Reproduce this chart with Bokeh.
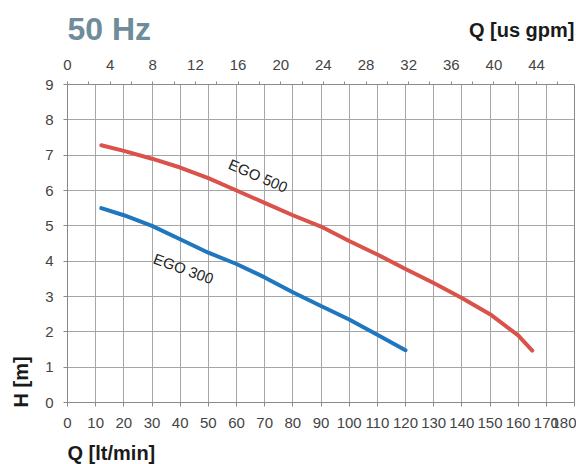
from bokeh.plotting import figure
from bokeh.models import Range1d, LinearAxis, FixedTicker, Label, Title
from bokeh.layouts import column
from bokeh.embed import file_html
from bokeh.resources import INLINE

# ---- data ----
q_ego500 = [12, 20, 30, 40, 50, 60, 70, 80, 90, 100, 110, 120, 130, 140, 150, 160, 165]
h_ego500 = [7.28, 7.12, 6.9, 6.65, 6.35, 6.0, 5.65, 5.3, 4.98, 4.57, 4.19, 3.78, 3.38, 2.96, 2.5, 1.9, 1.47]
q_ego300 = [12, 20, 30, 40, 50, 60, 70, 80, 90, 100, 110, 120]
h_ego300 = [5.5, 5.3, 5.0, 4.62, 4.24, 3.92, 3.54, 3.12, 2.73, 2.35, 1.92, 1.48]

lpm_ticks = list(range(0, 181, 10))
h_ticks = list(range(0, 10))
gpm_ticks = list(range(0, 45, 4))
gpm_minor = list(range(2, 47, 4))
LPM_PER_GPM = 3.785
Q_MAX = 180

FONT = "Liberation Sans"
TICK_COLOR = "#444444"
GRID = "#a6a6a6"
LABEL_COLOR = "#1a1a1a"

W, H = 576, 464
HEAD = 52
FOOT = 28


def strip(height):
    f = figure(width=W, height=height, x_range=Range1d(0, Q_MAX), y_range=Range1d(height, 0),
               output_backend="svg", toolbar_location=None,
               x_axis_type=None, y_axis_type=None,
               min_border_left=0, min_border_right=0, min_border_top=0, min_border_bottom=0)
    f.title_location = None
    f.outline_line_color = None
    f.background_fill_color = "white"
    f.border_fill_color = "white"
    return f


# ---- header strip (titles above the chart) ----
head = strip(HEAD)
head.add_layout(Label(x=0, y=28.5, text="50 Hz", text_align="left", text_baseline="middle",
                      text_font=FONT, text_font_size="32px", text_font_style="bold",
                      text_color="#6e8c9a"))
head.add_layout(Label(x=Q_MAX, y=29.7, text="Q [us gpm]", text_align="right", text_baseline="middle",
                      text_font=FONT, text_font_size="20px", text_font_style="bold",
                      text_color=LABEL_COLOR))

# ---- footer strip ----
foot = strip(FOOT)
foot.add_layout(Label(x=0, y=16.5, text="Q [lt/min]", text_align="left", text_baseline="middle",
                      text_font=FONT, text_font_size="20px", text_font_style="bold",
                      text_color=LABEL_COLOR))

# ---- main chart ----
p = figure(width=W, height=H - HEAD - FOOT,
           x_range=Range1d(0, Q_MAX), y_range=Range1d(0, 9),
           output_backend="svg", toolbar_location=None,
           min_border_left=65, min_border_right=2,
           min_border_top=84 - HEAD, min_border_bottom=(H - FOOT) - 402)
p.title_location = None
p.background_fill_color = "white"
p.border_fill_color = "white"
p.outline_line_color = "#8a8a8a"
p.outline_line_width = 1

p.extra_x_ranges = {"gpm": Range1d(0, Q_MAX / LPM_PER_GPM)}
top = LinearAxis(x_range_name="gpm",
                 ticker=FixedTicker(ticks=gpm_ticks, minor_ticks=gpm_minor))
p.add_layout(top, "above")

bottom = p.below[0]
left = p.left[0]
bottom.ticker = FixedTicker(ticks=lpm_ticks, minor_ticks=[])
left.ticker = FixedTicker(ticks=h_ticks, minor_ticks=[])

for ax in (bottom, left, top):
    ax.axis_line_color = "#8a8a8a"
    ax.major_tick_line_color = "#8a8a8a"
    ax.minor_tick_line_color = "#8a8a8a"
    ax.major_tick_in = 0
    ax.minor_tick_in = 0
    ax.major_label_text_font = FONT
    ax.major_label_text_font_size = "15px"
    ax.major_label_text_color = TICK_COLOR
bottom.major_tick_out = 4
bottom.major_label_standoff = 11
left.major_tick_out = 4
left.major_label_standoff = 10
top.major_tick_out = 3
top.minor_tick_out = 3
top.major_label_standoff = 12

p.xgrid.ticker = FixedTicker(ticks=lpm_ticks)
p.ygrid.ticker = FixedTicker(ticks=h_ticks)
for g in (p.xgrid, p.ygrid):
    g.grid_line_color = GRID
    g.grid_line_width = 1

p.line(q_ego500, h_ego500, line_color="#d9534b", line_width=4, line_cap="round", line_join="round")
p.line(q_ego300, h_ego300, line_color="#1f78bf", line_width=4, line_cap="round", line_join="round")

p.add_layout(Label(x=67.7, y=6.42, text="EGO 500", angle=-0.41, text_align="center",
                   text_baseline="middle", text_font=FONT, text_font_size="15px", text_color="#222222"))
p.add_layout(Label(x=41.2, y=3.79, text="EGO 300", angle=-0.35, text_align="center",
                   text_baseline="middle", text_font=FONT, text_font_size="15px", text_color="#222222"))

p.add_layout(Title(text="H [m]", align="left", offset=-5, standoff=18, vertical_align="top",
                   text_font=FONT, text_font_size="20px", text_font_style="bold",
                   text_color=LABEL_COLOR), "left")

layout = column(head, p, foot)
open("out.html", "w").write(file_html(layout, INLINE))
